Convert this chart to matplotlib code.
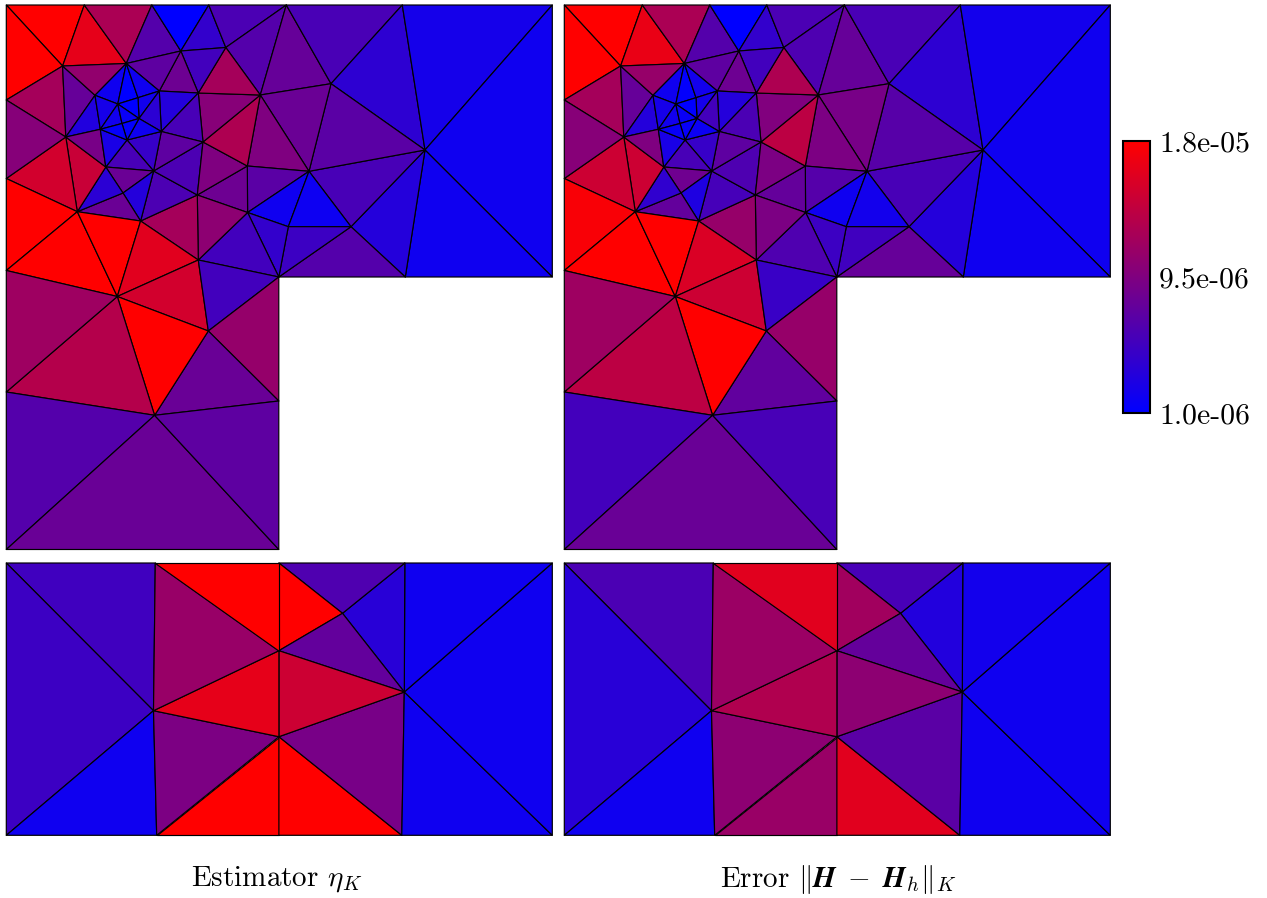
import numpy as np
import matplotlib
matplotlib.use('Agg')
import matplotlib.pyplot as plt
from matplotlib.colors import LinearSegmentedColormap, Normalize
from matplotlib.cm import ScalarMappable
from matplotlib.tri import Triangulation

plt.rcParams['font.family'] = ['cmr10', 'DejaVu Serif']
plt.rcParams['mathtext.fontset'] = 'cm'
plt.rcParams['axes.unicode_minus'] = False

# upper mesh (L shaped domain)
top_x = [0, 78, 145.5, 202.5, 280, 396, 546, 0, 0, 0, 0, 0, 272.5, 272.5, 272.5, 399, 546,
         56.3, 120, 174.5, 219.5, 324.7, 254, 192, 153, 88.7, 111.5, 131.7, 132.7, 94, 120.7, 155,
         59.5, 99.5, 147.3, 196.7, 241, 191, 116.7, 134.3, 71, 241.3, 192, 111, 202, 148.3,
         302.7, 418.7, 344.7, 282, 115.7]
top_y = [544.5, 544.5, 544.5, 544.5, 544.5, 544.5, 544.5, 449.5, 371, 279, 157.5, 0, 0, 148.5, 272.5, 272.5, 272.5,
         483.5, 486, 498.5, 502, 465.8, 454.5, 456.5, 458.5, 454.2, 445.5, 451.8, 431, 420.2, 409.5, 418,
         412.5, 382.5, 378.5, 407.5, 383.5, 354.5, 356.5, 328.5, 337.8, 337, 289.5, 253, 218.5, 134.2,
         378.2, 399.5, 322.8, 322.8, 426]
top_tris = [(0, 1, 17), (0, 17, 7), (1, 18, 17), (1, 2, 18), (2, 19, 18), (2, 3, 19), (3, 20, 19), (3, 4, 20),
            (4, 22, 20), (4, 21, 22), (4, 5, 21), (5, 47, 21), (5, 6, 47), (6, 16, 47), (15, 16, 47), (15, 47, 48),
            (14, 15, 48), (47, 46, 48), (21, 47, 46), (21, 46, 22), (22, 46, 36), (36, 46, 41), (41, 46, 49), (46, 48, 49),
            (48, 49, 14), (41, 49, 14), (41, 14, 42), (36, 41, 37), (41, 37, 42), (37, 39, 42), (34, 37, 39), (34, 35, 37),
            (35, 36, 37), (35, 22, 36), (23, 22, 35), (23, 20, 22), (19, 20, 23), (19, 23, 24), (18, 19, 24), (24, 23, 31),
            (23, 35, 31), (31, 35, 34), (30, 31, 34), (33, 30, 34), (33, 34, 38), (34, 38, 39), (38, 39, 40), (33, 38, 40),
            (32, 33, 40), (32, 8, 40), (8, 9, 40), (9, 43, 40), (40, 43, 39), (39, 43, 42), (43, 42, 44), (42, 14, 44),
            (14, 13, 44), (13, 44, 45), (43, 44, 45), (43, 10, 45), (9, 10, 43), (10, 11, 45), (11, 12, 45), (12, 13, 45),
            (7, 17, 32), (7, 32, 8), (17, 25, 32), (17, 18, 25), (25, 29, 32), (32, 29, 33), (29, 30, 33), (18, 25, 26),
            (18, 26, 27), (18, 27, 24), (24, 27, 28), (26, 27, 28), (24, 28, 31), (28, 30, 31), (25, 26, 29), (26, 50, 29),
            (26, 28, 50), (28, 30, 50), (29, 50, 30)]

# values per triangle, in units of 1e-6
top_est = [18, 18, 16.3, 12.4, 6.6, 1, 4.4, 6,
           6.6, 7.8, 5.9, 4, 2.4, 2, 2, 3.4,
           6.6, 5.8, 7, 8.1, 9.5, 7, 2, 1.9,
           5, 4.4, 5.4, 8.3, 10.4, 12, 6.1, 6.1,
           9.5, 12.6, 10, 12, 5.4, 8.3, 7.3, 3.4,
           5.8, 7.3, 4.7, 5.8, 8.1, 3.4, 8.1, 3.9,
           14.3, 15, 18, 18, 18, 16, 15, 5.4,
           10.9, 8, 18, 13, 11.5, 6.6, 8, 7.3,
           12, 9.9, 7.8, 10.7, 3.2, 9, 2.7, 2,
           1, 2, 2.2, 1, 3.9, 2, 2.5, 2.2,
           1.6, 1.2, 1.3]
top_err = [18, 18, 16.6, 12.4, 6.6, 1, 4.4, 6,
           6.2, 7.8, 5.9, 4, 2.3, 2, 2, 3.4,
           7.8, 5.8, 6.8, 9, 9.3, 6.7, 2, 2.3,
           5.3, 5, 6.3, 7.7, 9.3, 11, 5.7, 6.2,
           9.3, 13.5, 9.6, 12.6, 5.4, 8.3, 7.3, 3.4,
           6, 7.3, 4.7, 5.8, 8.4, 3, 7.6, 4.2,
           14.6, 14.6, 17.6, 18, 18, 15.5, 14.6, 4.8,
           11, 7.5, 18, 13.5, 11.5, 5.5, 8, 5.8,
           12, 10, 7.8, 11, 3.4, 9.5, 2.7, 2,
           1.2, 2.3, 2.5, 1, 5.5, 1.8, 2.5, 2.2,
           1.6, 1.5, 1.5]

# lower mesh (rectangle)
bot_x = [0, 149, 272.6, 398.5, 546, 0, 150.4, 272.6, 395.5, 546, 147.2, 272.6, 272.6, 398, 336.2]
bot_y = [272.3, 272.3, 272.3, 272.3, 272.3, 0, 0, 0, 0, 0, 124.6, 184.6, 98.6, 143.3, 222]
bot_tris = [(0, 1, 10), (0, 5, 10), (5, 6, 10), (6, 10, 12), (6, 7, 12), (7, 8, 12), (8, 12, 13), (8, 9, 13),
            (9, 4, 13), (4, 3, 13), (3, 13, 14), (2, 3, 14), (2, 11, 14), (11, 14, 13), (11, 12, 13), (10, 11, 12),
            (1, 10, 11), (1, 2, 11)]
bot_est = [5.3, 5, 2, 9.3, 18, 18, 9, 2,
           2, 2, 3.7, 6.3, 18, 7.6, 14.6, 16.3,
           11.1, 18]
bot_err = [6, 3.7, 2, 10.4, 11.2, 16, 7, 2,
           2, 2.3, 3.3, 5.8, 11.7, 7.7, 10.4, 12.7,
           11.3, 16]

cbar_ticks = [1e-6, 9.5e-6, 1.8e-5]
cbar_labels = ['1.0e-06', '9.5e-06', '1.8e-05']

W, H = 1267, 898
fig = plt.figure(figsize=(W / 100, H / 100), dpi=100)
cmap = LinearSegmentedColormap.from_list('br', ['#0000ff', '#ff0000'])
norm = Normalize(1e-6, 1.8e-5)


def box(x0, y0, x1, y1):
    return [x0 / W, 1 - y1 / H, (x1 - x0) / W, (y1 - y0) / H]


def mesh(rect, xs, ys, tris, vals):
    ax = fig.add_axes(box(*rect))
    tri = Triangulation(xs, ys, tris)
    ax.tripcolor(tri, facecolors=np.array(vals) * 1e-6, cmap=cmap, norm=norm,
                 edgecolors='k', linewidth=0.85, clip_on=False)
    ax.set_xlim(0, max(xs))
    ax.set_ylim(0, max(ys))
    ax.axis('off')


mesh((6.3, 5, 552.3, 549.5), top_x, top_y, top_tris, top_est)
mesh((564.3, 5, 1110.3, 549.5), top_x, top_y, top_tris, top_err)
mesh((6.3, 563, 552.3, 835.3), bot_x, bot_y, bot_tris, bot_est)
mesh((564.3, 563, 1110.3, 835.3), bot_x, bot_y, bot_tris, bot_err)

cax = fig.add_axes(box(1123, 141, 1150, 413))
cb = fig.colorbar(ScalarMappable(norm=norm, cmap=cmap), cax=cax)
cb.set_ticks(cbar_ticks)
cb.set_ticklabels(cbar_labels)
cb.ax.tick_params(length=0, pad=6.5, labelsize=21.4)
cb.outline.set_linewidth(1.5)
cb.outline.set_edgecolor('k')

fig.text(277 / W, 1 - 879 / H, r'Estimator $\eta_K$', ha='center', va='center', fontsize=21)
fig.text(838 / W, 1 - 879 / H, r'Error $\|\boldsymbol{H}\;-\;\boldsymbol{H}_h\|_K$', ha='center', va='center', fontsize=21)

fig.savefig('out.png', dpi=100)
